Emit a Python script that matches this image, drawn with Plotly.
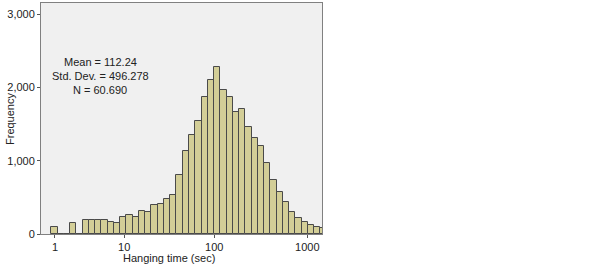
import math
import plotly.graph_objects as go

# Histogram bins on a log10(t + 1) scale (t = hanging time in seconds)
bin_start = 0.263      # lower edge of first bin, in log10(t+1) units
bin_width = 0.0669     # bin width, in log10(t+1) units

frequencies = [98, 0, 0, 152, 0, 195, 195, 192, 188, 165, 156, 238, 253, 235,
               318, 305, 400, 405, 472, 535, 810, 1131, 1352, 1541, 1874, 2107,
               2275, 1965, 1865, 1669, 1701, 1464, 1313, 1199, 971, 739, 575,
               438, 301, 219, 160, 128, 91, 78]

tick_seconds = [1, 10, 100, 1000]
tick_labels = ["1", "10", "100", "1000"]
y_ticks = [0, 1000, 2000, 3000]
y_tick_labels = ["0", "1,000", "2,000", "3,000"]

stats_lines = ["Mean = 112.24", "Std. Dev. = 496.278", "N = 60.690"]

bin_centers = [bin_start + (i + 0.5) * bin_width for i in range(len(frequencies))]
tick_pos = [math.log10(t + 1) for t in tick_seconds]

FONT = "Liberation Sans, Arial, sans-serif"
TXT = "#222222"
FS = 11

fig = go.Figure()
fig.add_trace(go.Bar(
    x=bin_centers,
    y=frequencies,
    width=bin_width,
    marker=dict(color="#d3ce97", line=dict(color="#4a4a4a", width=1)),
    hoverinfo="x+y",
))

L, R, T, B = 41, 280, 3, 30
W, H = 602, 264
px_per_unit = 93.5
origin_px = 26.8
x_left = (L - origin_px) / px_per_unit
x_right = (W - R - origin_px) / px_per_unit

fig.update_layout(
    width=W, height=H,
    margin=dict(l=L, r=R, t=T, b=B, pad=0, autoexpand=False),
    paper_bgcolor="white",
    plot_bgcolor="#f0f0f0",
    showlegend=False,
    bargap=0,
    font=dict(family=FONT, size=FS, color=TXT),
    xaxis=dict(
        range=[x_left, x_right],
        tickvals=tick_pos, ticktext=tick_labels,
        ticks="outside", ticklen=3, tickcolor="#555555",
        showgrid=False, zeroline=False, automargin=False,
        showline=True, linecolor="#808080", linewidth=1, mirror=True,
        tickfont=dict(family=FONT, size=FS, color=TXT),
    ),
    yaxis=dict(
        range=[0, 3155],
        tickvals=y_ticks, ticktext=y_tick_labels,
        ticks="outside", ticklen=3, tickcolor="#555555",
        showgrid=False, zeroline=False, automargin=False,
        showline=True, linecolor="#808080", linewidth=1, mirror=True,
        tickfont=dict(family=FONT, size=FS, color=TXT),
    ),
)

plot_w = W - L - R
plot_h = H - T - B

def px_to_paper(px, py):
    return (px - L) / plot_w, (H - B - py) / plot_h

# Axis titles
x0, y0 = px_to_paper(169, 258)
fig.add_annotation(x=x0, y=y0, xref="paper", yref="paper", text="Hanging time (sec)",
                   showarrow=False, xanchor="center", yanchor="middle",
                   font=dict(family=FONT, size=FS, color=TXT))
x0, y0 = px_to_paper(10, 119)
fig.add_annotation(x=x0, y=y0, xref="paper", yref="paper", text="Frequency",
                   showarrow=False, xanchor="center", yanchor="middle", textangle=-90,
                   font=dict(family=FONT, size=FS, color=TXT))

for i, line in enumerate(stats_lines):
    x0, y0 = px_to_paper(100, 62 + i * 14)
    fig.add_annotation(
        x=x0, y=y0, xref="paper", yref="paper",
        text=line, showarrow=False,
        xanchor="center", yanchor="middle",
        font=dict(family=FONT, size=FS, color=TXT),
    )

fig.write_html("out.html",
               config={"displayModeBar": False},
               post_script="document.body.style.margin='0';document.body.style.padding='0';")
